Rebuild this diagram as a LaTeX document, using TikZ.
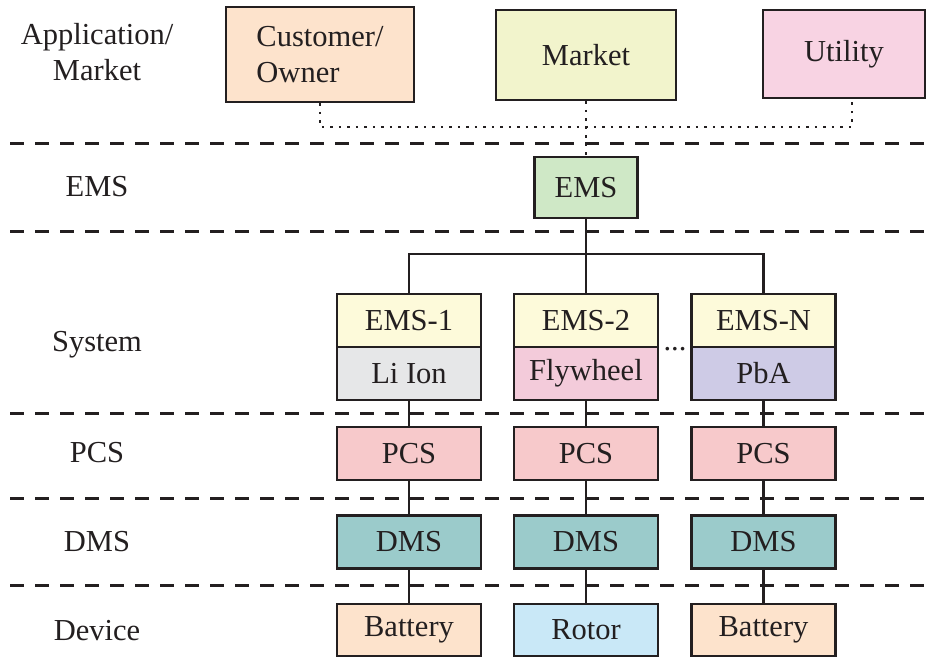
\documentclass[tikz,border=0pt]{standalone}
\usepackage{fontspec}
\setmainfont{Liberation Serif}
\definecolor{ink}{HTML}{231F20}
\definecolor{cpeach}{HTML}{FDE3CC}
\definecolor{cmarket}{HTML}{F2F4CC}
\definecolor{cutil}{HTML}{F8D3E3}
\definecolor{cems}{HTML}{CFE8C6}
\definecolor{cyel}{HTML}{FDFADA}
\definecolor{cgray}{HTML}{E6E7E8}
\definecolor{cfly}{HTML}{F3CBDA}
\definecolor{cpba}{HTML}{CECBE6}
\definecolor{cpcs}{HTML}{F7C9CB}
\definecolor{cdms}{HTML}{9BCBCB}
\definecolor{crotor}{HTML}{C9E8F7}
\begin{document}
\begin{tikzpicture}[x=1pt,y=-1pt,
  every node/.style={font=\fontsize{30.5}{36}\selectfont, text=ink},
  bx/.style={draw=ink, line width=2.8pt, inner sep=0pt, minimum width=144pt, minimum height=53pt},
  lab/.style={inner sep=0pt, align=center},
  link/.style={draw=ink, line width=2.6pt},
  dotline/.style={draw=ink, line width=2.4pt, dash pattern=on 2.4pt off 6.1pt},
  dashline/.style={draw=ink, line width=3pt, dash pattern=on 14pt off 11pt}]
\useasboundingbox[fill=white] (0,0) rectangle (927,657);

% separators
\foreach \yy in {143,231,413.5,498,585}
  \draw[dashline] (10,\yy) -- (927,\yy);

% left labels
\node[lab] (lApp) at (97,52) {Application/\\Market};
\node[lab] (lEms) at (97,187) {EMS};
\node[lab] (lSys) at (97,345) {System};
\node[lab] (lPcs) at (97,453) {PCS};
\node[lab] (lDms) at (97,542) {DMS};
\node[lab] (lDev) at (97,631) {Device};

% top row
\node[bx, fill=cpeach, minimum width=188pt, minimum height=95pt, align=left] (cust) at (320,54.5) {Customer/\\Owner};
\node[bx, fill=cmarket, minimum width=180pt, minimum height=90pt] (mkt) at (586,55) {Market};
\node[bx, fill=cutil, minimum width=162pt, minimum height=88pt] (util) at (844,54) {Utility};

% EMS
\node[bx, fill=cems, minimum width=103pt, minimum height=61pt] (ems) at (586,187.5) {EMS};

% system boxes
\node[bx, fill=cyel] (e1t) at (409,320.5) {EMS-1};
\node[bx, fill=cgray] (e1b) at (409,373.5) {Li Ion};
\node[bx, fill=cyel] (e2t) at (586,320.5) {EMS-2};
\node[bx, fill=cfly] (e2b) at (586,373.5) {Flywheel};
\node[bx, fill=cyel] (e3t) at (763.5,320.5) {EMS-N};
\node[bx, fill=cpba] (e3b) at (763.5,373.5) {PbA};
\node[anchor=base, inner sep=0pt] (dots) at (675,350) {...};

% PCS
\node[bx, fill=cpcs] (p1) at (409,453.5) {PCS};
\node[bx, fill=cpcs] (p2) at (586,453.5) {PCS};
\node[bx, fill=cpcs] (p3) at (763.5,453.5) {PCS};

% DMS
\node[bx, fill=cdms] (d1) at (409,542) {DMS};
\node[bx, fill=cdms] (d2) at (586,542) {DMS};
\node[bx, fill=cdms] (d3) at (763.5,542) {DMS};

% Devices
\node[bx, fill=cpeach, minimum height=52pt] (v1) at (409,630) {Battery};
\node[bx, fill=crotor, minimum height=52pt] (v2) at (586,630) {Rotor};
\node[bx, fill=cpeach, minimum height=52pt] (v3) at (763.5,630) {Battery};

% dotted links
\coordinate (dj) at (586,127);
\draw[dotline] (cust.south) |- (dj) -| ([xshift=8pt]util.south);
\draw[dotline] (mkt.south) -- (ems.north);

% tree
\coordinate (br) at (586,254);
\draw[link] (e1t.north) |- (br) -| (e3t.north);
\draw[link] (ems.south) -- (e2t.north);

% vertical chains
\foreach \i in {1,2,3}{
  \draw[link] (e\i b.south) -- (p\i.north);
  \draw[link] (p\i.south) -- (d\i.north);
  \draw[link] (d\i.south) -- (v\i.north);
}
\end{tikzpicture}
\end{document}
